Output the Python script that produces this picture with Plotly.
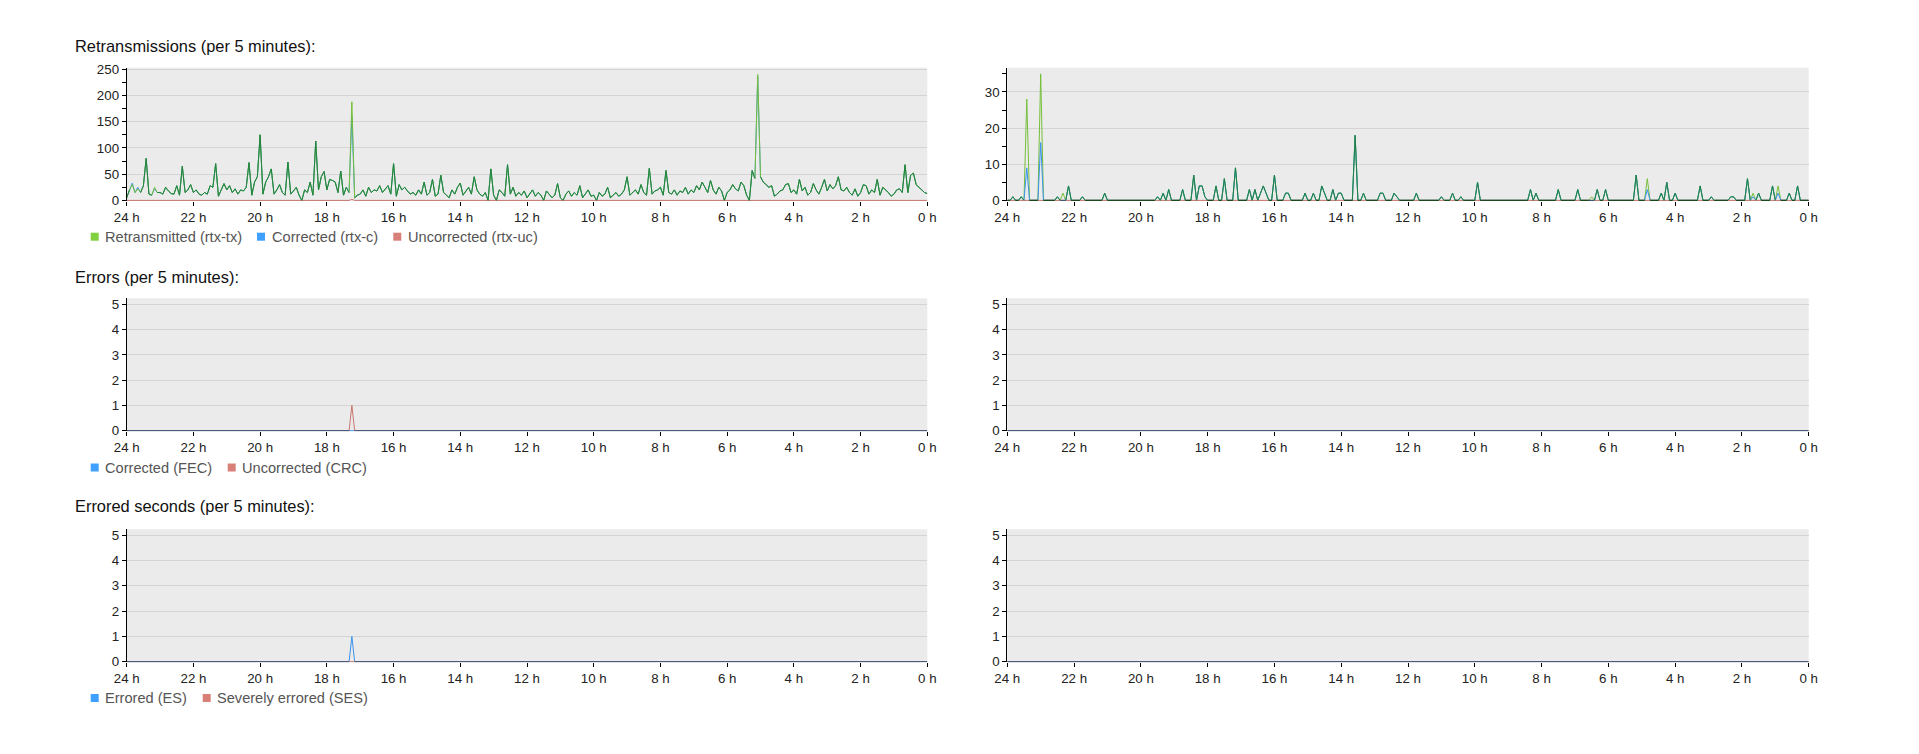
import plotly.graph_objects as go

# ------------------------------------------------------------------ data
N = 289  # one sample per 5 minutes over 24 h (24 h ago ... now)
hours_ago = [24 - i / 12 for i in range(N)]
x_tickvals = [24, 22, 20, 18, 16, 14, 12, 10, 8, 6, 4, 2, 0]
x_ticktext = [f"{v} h" for v in x_tickvals]

# Retransmissions, left line: retransmitted (rtx-tx), one row per hour
left_tx = [
    5, 20, 30, 15, 22, 15, 28, 80, 12, 10, 25, 15,
    15, 12, 25, 18, 13, 12, 28, 10, 65, 15, 20, 30,
    15, 20, 12, 10, 15, 12, 28, 25, 70, 8, 20, 32,
    20, 28, 15, 22, 12, 20, 18, 25, 72, 10, 35, 45,
    125, 12, 35, 45, 60, 12, 20, 30, 15, 10, 73, 12,
    18, 25, 10, 0, 20, 15, 35, 10, 113, 20, 45, 55,
    20, 40, 38, 35, 15, 56, 10, 25, 15, 188, 5, 10,
    12, 20, 8, 25, 15, 20, 18, 28, 15, 22, 28, 12,
    70, 8, 30, 20, 25, 18, 12, 15, 10, 20, 12, 35,
    10, 15, 40, 8, 12, 48, 15, 10, 5, 20, 12, 25,
    33, 10, 18, 25, 12, 45, 20, 12, 8, 15, 0, 60,
    10, 0, 20, 15, 8, 68, 12, 25, 8, 15, 10, 18,
    5, 12, 20, 8, 15, 10, 0, 18, 12, 5, 10, 32,
    5, 0, 12, 18, 8, 15, 10, 28, 5, 12, 20, 8,
    10, 0, 15, 8, 12, 25, 5, 10, 15, 8, 12, 20,
    45, 10, 15, 20, 12, 30, 15, 10, 61, 12, 18, 20,
    25, 10, 57, 15, 12, 20, 10, 18, 15, 25, 12, 20,
    15, 28, 20, 35, 25, 15, 38, 20, 12, 25, 18, 0,
    15, 20, 30, 22, 18, 35, 28, 10, 0, 57, 42, 240,
    45, 35, 30, 25, 28, 8, 12, 18, 20, 30, 32, 15,
    20, 12, 40, 18, 25, 10, 15, 32, 20, 12, 25, 40,
    18, 30, 22, 28, 45, 20, 18, 25, 15, 10, 22, 8,
    15, 30, 28, 12, 20, 15, 40, 10, 25, 20, 15, 8,
    12, 20, 22, 15, 68, 15, 48, 52, 30, 25, 20, 15, 13,
]
# corrected (rtx-c) equals rtx-tx except at these samples
left_c_diff = {2: 33, 4: 25, 10: 22, 81: 160, 227: 236}
left_uc_nonzero = {81: 2}

# Retransmissions, right line (sample index -> value, all others 0)
right_tx_nonzero = {
    2: 1, 5: 1, 7: 28, 12: 35, 18: 1, 20: 2, 22: 4, 27: 1, 35: 2,
    54: 1, 56: 2, 58: 3, 63: 3, 67: 7, 69: 4, 70: 4, 71: 1, 75: 4, 78: 6,
    82: 9, 87: 3, 89: 3, 91: 2, 92: 4, 93: 2, 96: 7, 100: 2, 101: 2,
    107: 2, 110: 2, 113: 4, 114: 2, 117: 3, 119: 2, 120: 2, 125: 18,
    128: 2, 134: 2, 135: 2, 139: 2, 140: 1, 147: 2, 156: 1, 160: 2,
    163: 1, 169: 5, 188: 3, 190: 2, 198: 3, 205: 3, 210: 1, 212: 3,
    215: 3, 226: 7, 230: 6, 235: 2, 237: 5, 240: 2, 249: 4, 253: 1,
    260: 1, 261: 1, 266: 6, 268: 2, 270: 2, 275: 4, 277: 4, 281: 2, 284: 4,
}
right_c_diff = {7: 9, 12: 16, 20: 0, 210: 0, 230: 3, 268: 1, 277: 2}
right_uc_nonzero = {}

# Errors
left_fec_nonzero = {}
left_crc_nonzero = {81: 1}
right_fec_nonzero = {}
right_crc_nonzero = {}
# Errored seconds
left_es_nonzero = {81: 1}
left_ses_nonzero = {}
right_es_nonzero = {}
right_ses_nonzero = {}

# ------------------------------------------------------------------ style
GREEN, BLUE, SALMON = "#80d040", "#40a0ff", "#d88078"
PLOT_BG = "#ebebeb"
FONT = "Liberation Sans, Arial, sans-serif"
FW, FH = 1919, 754


def fx(px):
    return px / FW


def fy(py):
    return 1 - py / FH


def sparse(d):
    return [d.get(i, 0) for i in range(N)]


def patched(base, d):
    return [d.get(i, v) for i, v in enumerate(base)]


def multiply(*cols):
    r, g, b = 255, 255, 255
    for c in cols:
        cr, cg, cb = int(c[1:3], 16), int(c[3:5], 16), int(c[5:7], 16)
        r, g, b = r * cr // 255, g * cg // 255, b * cb // 255
    return f"#{r:02x}{g:02x}{b:02x}"


def overlap(series):
    out = []
    for i in range(N):
        vals = [s[i] for s in series]
        out.append(vals[0] if all(v == vals[0] for v in vals) else None)
    return out


left_c = patched(left_tx, left_c_diff)
right_tx = sparse(right_tx_nonzero)
right_c = patched(right_tx, right_c_diff)

panels = [
    # (row, col, [(values, color)], draw order, ymax, major, minor)
    (0, 0, [(left_tx, GREEN), (left_c, BLUE), (sparse(left_uc_nonzero), SALMON)], [1, 0, 2],
     253, [0, 50, 100, 150, 200, 250], [25, 75, 125, 175, 225]),
    (0, 1, [(right_tx, GREEN), (right_c, BLUE), (sparse(right_uc_nonzero), SALMON)], [0, 1, 2],
     36.7, [0, 10, 20, 30], [5, 15, 25, 35]),
    (1, 0, [(sparse(left_fec_nonzero), BLUE), (sparse(left_crc_nonzero), SALMON)], [0, 1],
     5.24, [0, 1, 2, 3, 4, 5], []),
    (1, 1, [(sparse(right_fec_nonzero), BLUE), (sparse(right_crc_nonzero), SALMON)], [0, 1],
     5.24, [0, 1, 2, 3, 4, 5], []),
    (2, 0, [(sparse(left_es_nonzero), BLUE), (sparse(left_ses_nonzero), SALMON)], [0, 1],
     5.24, [0, 1, 2, 3, 4, 5], []),
    (2, 1, [(sparse(right_es_nonzero), BLUE), (sparse(right_ses_nonzero), SALMON)], [0, 1],
     5.24, [0, 1, 2, 3, 4, 5], []),
]

cols_px = [(126.7, 927.3), (1007.3, 1808.7)]
rows_px = [(67.7, 201.0), (298.3, 431.3), (529.2, 662.3)]

fig = go.Figure()
layout = dict(
    width=FW, height=FH, margin=dict(l=0, r=0, t=0, b=0, autoexpand=False),
    paper_bgcolor="#ffffff", plot_bgcolor=PLOT_BG, showlegend=False,
    font=dict(family=FONT, size=13.3, color="#222222"),
)

for k, (r, c, series, order, ymax, major, minor) in enumerate(panels, start=1):
    xa, ya = f"x{k}" if k > 1 else "x", f"y{k}" if k > 1 else "y"
    for j in order:
        vals, col = series[j]
        fig.add_trace(go.Scatter(x=hours_ago, y=vals, mode="lines", xaxis=xa, yaxis=ya,
                                 line=dict(color=multiply(col, PLOT_BG), width=1), hoverinfo="skip"))
    # colour where lines coincide (multiplicative blending of the canvas)
    combos = [(0, 2), (1, 2), (0, 1), (0, 1, 2)] if len(series) == 3 else [(0, 1)]
    for combo in combos:
        ys = overlap([series[j][0] for j in combo])
        fig.add_trace(go.Scatter(x=hours_ago, y=ys, mode="lines", xaxis=xa, yaxis=ya,
                                 connectgaps=False, hoverinfo="skip",
                                 line=dict(color=multiply(*[series[j][1] for j in combo]), width=1)))
    x0, x1 = cols_px[c]
    y0, y1 = rows_px[r]
    # keep the zero line fully inside the clip area (about 0.6 px below zero)
    ymin = -ymax * 0.6 / (y1 - y0)
    layout[f"xaxis{k if k > 1 else ''}"] = dict(
        domain=[fx(x0), fx(x1)], anchor=ya, range=[24, 0], automargin=False,
        tickvals=x_tickvals, ticktext=x_ticktext, ticks="outside", ticklen=4,
        tickcolor="#000000", showgrid=False, zeroline=False, showline=False,
        tickfont=dict(size=13.3, color="#222222", family=FONT), fixedrange=True,
    )
    layout[f"yaxis{k if k > 1 else ''}"] = dict(
        domain=[fy(y1), fy(y0)], anchor=xa, range=[ymin, ymax], automargin=False,
        tickvals=major, ticks="outside", ticklen=4, tickcolor="#000000",
        showgrid=True, gridcolor="#d4d4d4", gridwidth=1, zeroline=False,
        showline=True, linecolor="#000000", linewidth=1,
        tickfont=dict(size=13.3, color="#222222", family=FONT), fixedrange=True,
        minor=dict(tickvals=minor, ticks="outside", ticklen=4, tickcolor="#000000", showgrid=False),
    )

annotations = []
shapes = []
titles = [("Retransmissions (per 5 minutes):", 46.0),
          ("Errors (per 5 minutes):", 277.0),
          ("Errored seconds (per 5 minutes):", 505.5)]
for text, ypx in titles:
    annotations.append(dict(text=text, x=fx(73.3), y=fy(ypx), xref="paper", yref="paper",
                            xanchor="left", yanchor="middle", showarrow=False,
                            font=dict(size=16.4, color="#111111", family=FONT)))

legends = [
    (236.7, [(GREEN, "Retransmitted (rtx-tx)", 90.7, 103.3),
             (BLUE, "Corrected (rtx-c)", 257.0, 269.6),
             (SALMON, "Uncorrected (rtx-uc)", 393.3, 405.9)]),
    (467.5, [(BLUE, "Corrected (FEC)", 90.7, 103.3),
             (SALMON, "Uncorrected (CRC)", 227.7, 240.3)]),
    (698.0, [(BLUE, "Errored (ES)", 90.7, 103.3),
             (SALMON, "Severely errored (SES)", 202.7, 215.3)]),
]
for ypx, items in legends:
    for col, label, sx, tx in items:
        shapes.append(dict(type="rect", xref="paper", yref="paper",
                           x0=fx(sx), x1=fx(sx + 8), y0=fy(ypx + 4), y1=fy(ypx - 4),
                           fillcolor=col, line=dict(width=0)))
        annotations.append(dict(text=label, x=fx(tx), y=fy(ypx), xref="paper", yref="paper",
                                xanchor="left", yanchor="middle", showarrow=False,
                                font=dict(size=14.6, color="#555555", family=FONT)))

layout["annotations"] = annotations
layout["shapes"] = shapes
fig.update_layout(**layout)
fig.write_html("out.html", config={"displayModeBar": False, "responsive": False},
               post_script="document.body.style.margin='0px';")
